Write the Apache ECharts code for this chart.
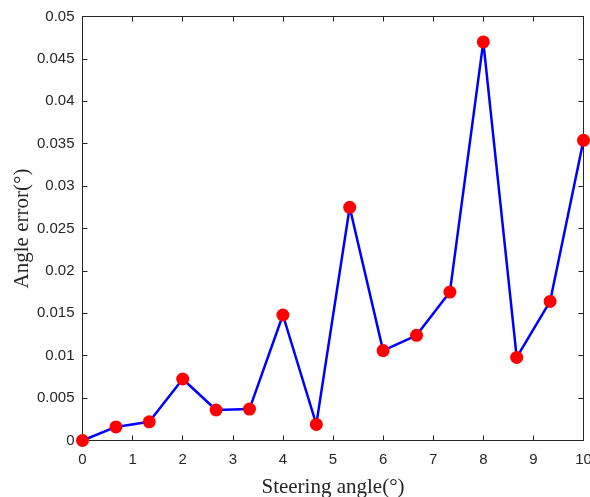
<!DOCTYPE html>
<html>
<head>
<meta charset="UTF-8">
<title>Angle error</title>
<script src="https://cdn.jsdelivr.net/npm/echarts@6/dist/echarts.min.js"></script>
<style>
  html, body { margin: 0; padding: 0; background: #fff; }
</style>
</head>
<body>
<div id="main" style="width:590px;height:497px;"></div>
<script type="text/javascript">
// steering angle (deg) and measured angle error (deg)
var steerAngle = [0, 0.667, 1.333, 2, 2.667, 3.333, 4, 4.667, 5.333, 6, 6.667, 7.333, 8, 8.667, 9.333, 10];
var angleError = [0, 0.0016, 0.0022, 0.00725, 0.0036, 0.0037, 0.0148, 0.0019, 0.0275, 0.0106, 0.0124, 0.0175, 0.0470, 0.0098, 0.0164, 0.0354];

var pts = [];
for (var i = 0; i < steerAngle.length; i++) {
  pts.push([steerAngle[i], angleError[i]]);
}

var axisCol = '#262626';
var myChart = echarts.init(document.getElementById('main'));

var option = {
  animation: false,
  backgroundColor: '#fff',
  grid: { left: 82.5, top: 16.5, right: 6.5, bottom: 56.5, containLabel: false, outerBoundsMode: 'none' },
  xAxis: [{
    type: 'value', min: 0, max: 10, interval: 1,
    name: 'Steering angle(°)', nameLocation: 'middle', nameGap: 36, nameMoveOverlap: false,
    nameTextStyle: { fontFamily: 'Liberation Serif', fontSize: 21, color: axisCol },
    axisLine: { show: true, onZero: false, lineStyle: { color: axisCol, width: 1 } },
    axisTick: { show: true, inside: true, length: 5, lineStyle: { color: axisCol } },
    axisLabel: { fontFamily: 'Liberation Sans', fontSize: 15, color: axisCol, margin: 12 },
    splitLine: { show: false }
  }, {
    type: 'value', min: 0, max: 10, interval: 1, position: 'top',
    axisLine: { show: true, onZero: false, lineStyle: { color: axisCol, width: 1 } },
    axisTick: { show: true, inside: true, length: 5, lineStyle: { color: axisCol } },
    axisLabel: { show: false },
    splitLine: { show: false }
  }],
  yAxis: [{
    type: 'value', min: 0, max: 0.05, interval: 0.005,
    name: 'Angle error(°)', nameLocation: 'middle', nameGap: 50, nameMoveOverlap: false,
    nameTextStyle: { fontFamily: 'Liberation Serif', fontSize: 21, color: axisCol },
    axisLine: { show: true, onZero: false, lineStyle: { color: axisCol, width: 1 } },
    axisTick: { show: true, inside: true, length: 5, lineStyle: { color: axisCol } },
    axisLabel: { fontFamily: 'Liberation Sans', fontSize: 15, color: axisCol, margin: 8,
      formatter: function (v) { return String(+v.toFixed(3)); } },
    splitLine: { show: false }
  }, {
    type: 'value', min: 0, max: 0.05, interval: 0.005, position: 'right',
    axisLine: { show: true, onZero: false, lineStyle: { color: axisCol, width: 1 } },
    axisTick: { show: true, inside: true, length: 5, lineStyle: { color: axisCol } },
    axisLabel: { show: false },
    splitLine: { show: false }
  }],
  series: [{
    type: 'line',
    data: pts,
    xAxisIndex: 0, yAxisIndex: 0,
    symbol: 'circle', symbolSize: 13,
    lineStyle: { color: '#0000ff', width: 2.5 },
    itemStyle: { color: '#ff0000' },
    clip: false
  }]
};
myChart.setOption(option);
</script>
</body>
</html>
